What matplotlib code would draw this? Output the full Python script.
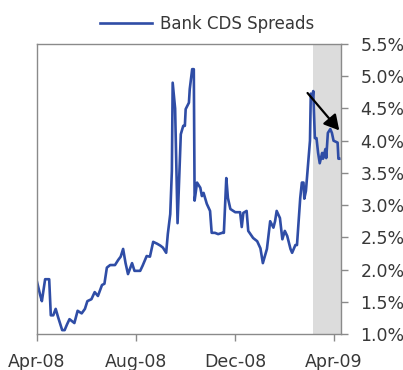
import matplotlib
matplotlib.use("Agg")
import matplotlib.pyplot as plt
import numpy as np
import pandas as pd

dates = ["2008-04-01","2008-04-05","2008-04-07","2008-04-11","2008-04-16","2008-04-18","2008-04-21",
         "2008-04-24","2008-04-27","2008-05-02","2008-05-05","2008-05-08","2008-05-11","2008-05-14",
         "2008-05-17","2008-05-21","2008-05-26","2008-05-30","2008-06-02","2008-06-07","2008-06-11",
         "2008-06-15","2008-06-20","2008-06-23","2008-06-26","2008-06-30","2008-07-06","2008-07-10",
         "2008-07-13","2008-07-16","2008-07-19","2008-07-22","2008-07-27","2008-07-30","2008-08-02",
         "2008-08-06","2008-08-09","2008-08-14","2008-08-18","2008-08-22","2008-08-27","2008-08-31",
         "2008-09-03","2008-09-07","2008-09-09","2008-09-12","2008-09-14","2008-09-15","2008-09-18",
         "2008-09-21","2008-09-25","2008-09-28","2008-09-30","2008-10-01","2008-10-05","2008-10-06",
         "2008-10-09","2008-10-11","2008-10-12","2008-10-15","2008-10-19","2008-10-21","2008-10-23",
         "2008-10-27","2008-10-31","2008-11-02","2008-11-06","2008-11-10","2008-11-15","2008-11-17",
         "2008-11-20","2008-11-22","2008-11-25","2008-12-01","2008-12-07","2008-12-09","2008-12-11",
         "2008-12-15","2008-12-17","2008-12-23","2008-12-28","2009-01-01","2009-01-04","2009-01-09",
         "2009-01-13","2009-01-17","2009-01-19","2009-01-21","2009-01-25","2009-01-28","2009-01-31",
         "2009-02-03","2009-02-07","2009-02-09","2009-02-13","2009-02-15","2009-02-19","2009-02-21",
         "2009-02-23","2009-02-24","2009-02-26","2009-03-01","2009-03-03","2009-03-04","2009-03-06",
         "2009-03-07","2009-03-09","2009-03-11","2009-03-13","2009-03-15","2009-03-18","2009-03-19",
         "2009-03-22","2009-03-23","2009-03-25","2009-03-28","2009-03-30","2009-04-01","2009-04-06",
         "2009-04-07","2009-04-08"]
spreads = [1.81,1.60,1.51,1.85,1.85,1.29,1.29,
           1.39,1.26,1.06,1.06,1.15,1.23,1.20,
           1.17,1.36,1.32,1.39,1.51,1.54,1.65,
           1.59,1.76,1.78,2.03,2.07,2.07,2.15,
           2.20,2.32,2.10,1.93,2.10,1.98,1.98,
           1.98,2.06,2.21,2.20,2.43,2.40,2.37,
           2.34,2.26,2.55,2.86,3.53,4.90,4.50,
           2.72,4.10,4.23,4.23,4.49,4.59,4.80,
           5.11,5.11,3.07,3.35,3.27,3.14,3.19,
           3.02,2.91,2.57,2.57,2.55,2.57,2.57,
           3.42,3.11,2.94,2.89,2.89,2.66,2.88,
           2.91,2.60,2.49,2.44,2.33,2.10,2.32,
           2.75,2.65,2.75,2.91,2.80,2.47,2.60,
           2.52,2.32,2.26,2.38,2.38,3.11,3.35,
           3.35,3.10,3.22,3.69,4.00,4.73,4.65,
           4.77,4.04,4.04,3.81,3.65,3.81,3.72,
           3.87,3.73,4.12,4.18,4.12,4.00,3.97,
           3.72,3.72]
series_label = "Bank CDS Spreads"
x_ticks = ["2008-04-01", "2008-08-01", "2008-12-01", "2009-04-01"]
x_tick_labels = ["Apr-08", "Aug-08", "Dec-08", "Apr-09"]
y_ticks = [1.0, 1.5, 2.0, 2.5, 3.0, 3.5, 4.0, 4.5, 5.0, 5.5]
shade_start, shade_end = "2009-03-07", "2009-04-10"
arrow_from = ("2009-02-28", 4.74)
arrow_to = ("2009-04-08", 4.16)

plt.rcParams['font.family'] = ['DejaVu Sans']
text_col = "#383838"
spine_col = "#8a8a8a"
line_col = "#2f4da6"

fig = plt.figure(figsize=(4.03, 3.70), dpi=100)
ax = fig.add_axes([0.0918, 0.0973, 0.754, 0.7837])

d = pd.to_datetime(dates)
ax.axvspan(pd.Timestamp(shade_start), pd.Timestamp(shade_end), color="#dcdcdc", lw=0, zorder=0)
ln, = ax.plot(d, spreads, color=line_col, lw=1.9, label=series_label, zorder=2)

ax.annotate("", xy=(pd.Timestamp(arrow_to[0]), arrow_to[1]),
            xytext=(pd.Timestamp(arrow_from[0]), arrow_from[1]),
            arrowprops=dict(arrowstyle="-|>,head_length=0.9,head_width=0.5", color="black", lw=1.6,
                            shrinkA=0, shrinkB=0), zorder=3)

ax.set_xlim(pd.Timestamp("2008-04-01"), pd.Timestamp(shade_end))
ax.set_ylim(1.0, 5.5)
ax.set_xticks(pd.to_datetime(x_ticks))
ax.set_xticklabels(x_tick_labels)
ax.yaxis.tick_right()
ax.set_yticks(y_ticks)
ax.set_yticklabels([f"{v:.1f}%" for v in y_ticks])
ax.tick_params(axis='y', direction='out', length=5, width=1, color=spine_col, labelsize=12.5,
               labelcolor=text_col, pad=9)
ax.tick_params(axis='x', direction='out', length=5, width=1, color=spine_col, labelsize=12.5,
               labelcolor=text_col, pad=9)
for s in ax.spines.values():
    s.set_color(spine_col)
    s.set_linewidth(1)

fig.legend(handles=[ln], labels=[series_label], loc="upper center", bbox_to_anchor=(0.515, 1.0),
           frameon=False, fontsize=12, handlelength=3.1, labelcolor=text_col, handletextpad=0.5)

fig.savefig("out.png", dpi=100)
